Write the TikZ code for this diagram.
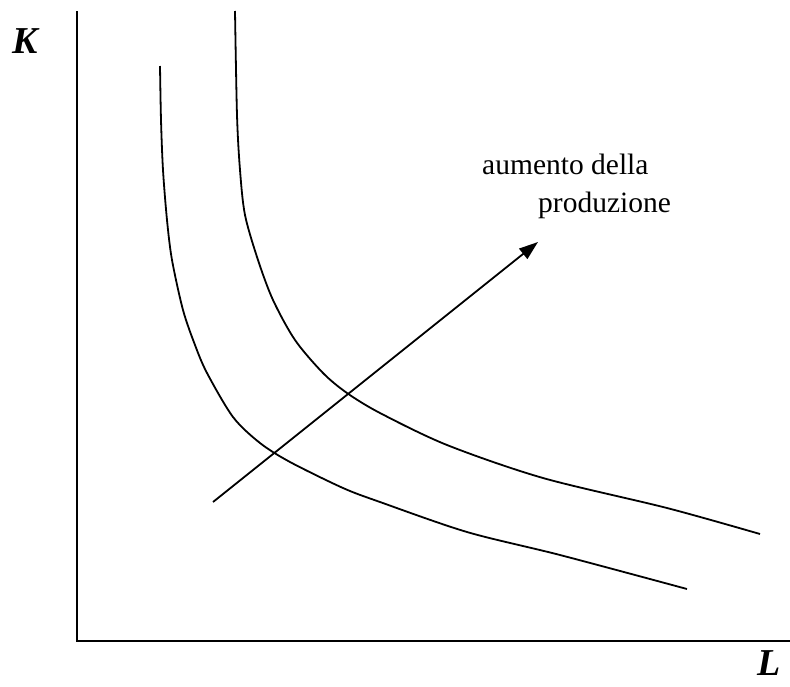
\documentclass[tikz,border=0pt]{standalone}
\usepackage{fontspec}
\setmainfont{Liberation Serif}
\usetikzlibrary{arrows.meta}
\begin{document}
\begin{tikzpicture}[x=1pt,y=-1pt,
  axis/.style={line width=2.1pt,line join=miter},
  isoq/.style={line width=1.8pt,smooth,tension=0.5},
  lbl/.style={inner sep=0pt,anchor=base west,font=\fontsize{29.5}{34}\selectfont},
  axlbl/.style={inner sep=0pt,anchor=base west,font=\fontsize{38}{44}\selectfont\bfseries\itshape},
  growth/.style={line width=1.8pt,-{Triangle[length=19pt,width=13pt]}}]
\useasboundingbox (0,0) rectangle (790,686);
% axes
\coordinate (ytop) at (77,11);
\coordinate (origin) at (77,641);
\coordinate (xend) at (792,641);
\draw[axis] (ytop) -- (origin) -- (xend);
\node[axlbl] (K) at (12,53) {K};
\node[axlbl] (L) at (757,675) {L};
% isoquants
\draw[isoq] plot coordinates {(160,66) (161,120) (163,170) (167,220) (172,260) (183,310) (195,345) (207,373) (233,417) (260,443) (290,462) (343,488) (380,502) (467,532) (560,555) (687,589)};
\draw[isoq] plot coordinates {(235,11) (237,115) (240,170) (245,215) (258,260) (273,300) (295,340) (323,373) (347,393) (380,413) (447,445) (543,478) (667,508) (760,534)};
% arrow
\coordinate (atail) at (213,502);
\coordinate (ahead) at (538,242);
\draw[growth] (atail) -- (ahead);
\node[lbl] (t1) at (482,174) {aumento della};
\node[lbl] (t2) at (538,212) {produzione};
\end{tikzpicture}
\end{document}
